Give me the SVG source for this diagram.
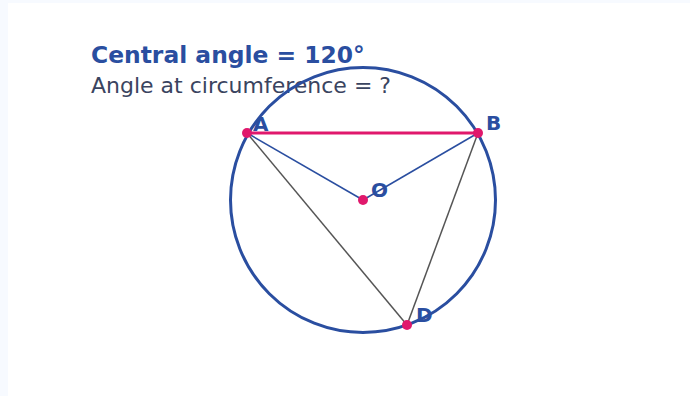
<svg xmlns="http://www.w3.org/2000/svg" width="690" height="396" viewBox="0 0 690 396">
<style>
.lbl{font-family:"DejaVu Sans",sans-serif;font-weight:bold;font-size:20px;fill:#2a4ea0}
.pt{fill:#e0186c}
</style>
<rect width="690" height="396" fill="#f7faff"/>
<rect x="8" y="3" width="682" height="393" fill="#ffffff"/>
<text x="91" y="63" font-family="DejaVu Sans, sans-serif" font-weight="bold" font-size="23.4" fill="#2a4ea0">Central angle = 120°</text>
<text x="91" y="93" font-family="DejaVu Sans, sans-serif" font-size="22" fill="#3a4460">Angle at circumference = ?</text>
<g id="circle"><circle cx="363" cy="200" r="132.5" fill="none" stroke="#2a4ea0" stroke-width="3"/></g>
<g id="connectors">
<line x1="247" y1="133" x2="363" y2="200" stroke="#2a4ea0" stroke-width="1.5"/>
<line x1="478" y1="133" x2="363" y2="200" stroke="#2a4ea0" stroke-width="1.5"/>
<line x1="247" y1="133" x2="407" y2="325" stroke="#555" stroke-width="1.5"/>
<line x1="478" y1="133" x2="407" y2="325" stroke="#555" stroke-width="1.5"/>
<line x1="247" y1="133" x2="478" y2="133" stroke="#e0186c" stroke-width="3"/>
</g>
<g id="A"><circle class="pt" cx="247" cy="133" r="5"/><text class="lbl" x="253" y="131">A</text></g>
<g id="B"><circle class="pt" cx="478" cy="133" r="5"/><text class="lbl" x="486" y="130">B</text></g>
<g id="O"><circle class="pt" cx="363" cy="200" r="5"/><text class="lbl" x="371" y="197">O</text></g>
<g id="D"><circle class="pt" cx="407" cy="325" r="5"/><text class="lbl" x="416" y="322">D</text></g>
</svg>
